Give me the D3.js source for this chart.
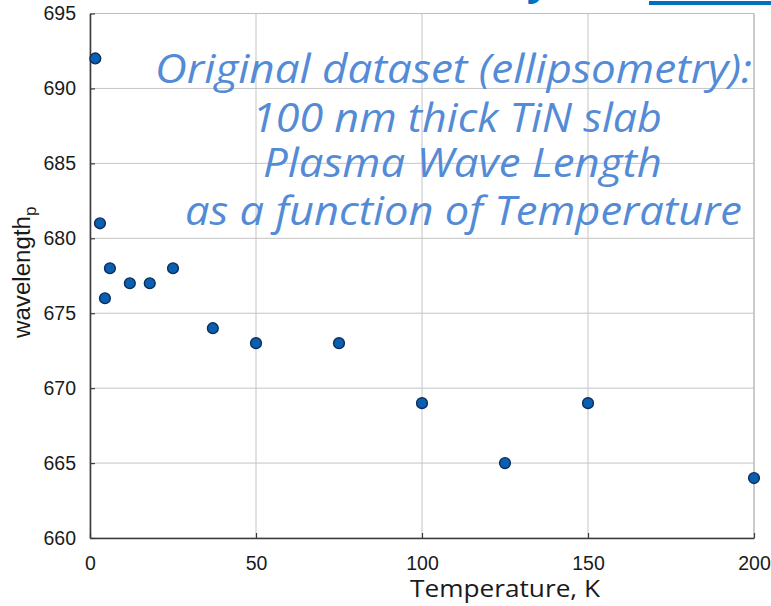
<!DOCTYPE html>
<html>
<head>
<meta charset="utf-8">
<script src="https://cdn.jsdelivr.net/npm/d3@7"></script>
<style>
  html, body { margin: 0; padding: 0; background: #ffffff; }
  svg { display: block; }
</style>
</head>
<body>
<div id="chart"></div>
<script>
// ---- data ----
const temperatures = [1.6, 3, 4.5, 6, 12, 18, 25, 37, 50, 75, 100, 125, 150, 200];
const wavelengths  = [692, 681, 676, 678, 677, 677, 678, 674, 673, 673, 669, 665, 669, 664];
const xTicks = [0, 50, 100, 150, 200];
const yTicks = [660, 665, 670, 675, 680, 685, 690, 695];
const annotationLines = [
  "Original dataset (ellipsometry):",
  "100 nm thick TiN slab",
  "Plasma Wave Length",
  "as a function of Temperature"
];
const xTitle = "Temperature, K";
const yTitle = "wavelength";
const yTitleSub = "p";

// ---- layout ----
const W = 771, H = 606;
const pL = 90, pR = 754, pT = 13.5, pB = 538;

const svg = d3.select("#chart").append("svg")
  .attr("width", W).attr("height", H);

const x = d3.scaleLinear().domain([0, 200]).range([pL, pR]);
const y = d3.scaleLinear().domain([660, 695]).range([pB, pT]);

// decorative header remnants (cut-off slide title)
svg.append("rect").attr("x", 649).attr("y", 1).attr("width", 122).attr("height", 4)
  .attr("fill", "#0070C0");
svg.append("text").attr("x", 531).attr("y", -5)
  .attr("font-family", "Open Sans").attr("font-weight", 700).attr("font-style", "italic")
  .attr("font-size", 40).attr("fill", "#0070C0").text("y");

// grid
const grid = svg.append("g");
grid.selectAll("line.gx").data(xTicks).join("line")
  .attr("class", "gx")
  .attr("x1", d => x(d)).attr("x2", d => x(d))
  .attr("y1", pT).attr("y2", pB)
  .attr("stroke", "#c4c4c4").attr("stroke-width", 1);
grid.selectAll("line.gy").data(yTicks).join("line")
  .attr("class", "gy")
  .attr("x1", pL).attr("x2", pR)
  .attr("y1", d => y(d)).attr("y2", d => y(d))
  .attr("stroke", "#c4c4c4").attr("stroke-width", 1);

// box border (top/right light)
svg.append("line").attr("x1", pL).attr("x2", pR).attr("y1", pT).attr("y2", pT)
  .attr("stroke", "#bdbdbd").attr("stroke-width", 1.2);
svg.append("line").attr("x1", pR).attr("x2", pR).attr("y1", pT).attr("y2", pB)
  .attr("stroke", "#bdbdbd").attr("stroke-width", 1.2);

// axes
const xAxis = d3.axisBottom(x).tickValues(xTicks).tickSizeInner(-5).tickSizeOuter(0).tickPadding(18);
const yAxis = d3.axisLeft(y).tickValues(yTicks).tickSizeInner(-5).tickSizeOuter(0).tickPadding(14);

const gx = svg.append("g").attr("transform", `translate(0,${pB})`).call(xAxis);
const gy = svg.append("g").attr("transform", `translate(${pL},0)`).call(yAxis);
[gx, gy].forEach(g => {
  g.select(".domain").attr("stroke", "#3c3c3c").attr("stroke-width", 1.6);
  g.selectAll(".tick line").attr("stroke", "#3c3c3c").attr("stroke-width", 1.2);
  g.selectAll(".tick text").attr("font-family", "Liberation Sans, Arial, sans-serif")
    .attr("font-size", 19.5).attr("fill", "#1a1a1a");
});

// annotation
const ann = svg.append("g");
const annBaselines = [83, 132, 177, 225];
const annStarts = [155, 252, 263, 185];
const annEnds = [752, 662, 662, 742];
ann.selectAll("text").data(annotationLines).join("text")
  .attr("x", (d, i) => annStarts[i])
  .attr("y", (d, i) => annBaselines[i])
  .attr("textLength", (d, i) => annEnds[i] - annStarts[i])
  .attr("lengthAdjust", "spacingAndGlyphs")
  .attr("font-family", "Open Sans, sans-serif")
  .attr("font-style", "italic")
  .attr("font-size", 40)
  .attr("fill", "#548bd6")
  .text(d => d);

// points
svg.append("g").selectAll("circle").data(temperatures).join("circle")
  .attr("cx", d => x(d))
  .attr("cy", (d, i) => y(wavelengths[i]))
  .attr("r", 5.4)
  .attr("fill", "#0b5fb0")
  .attr("stroke", "#0c2d5a")
  .attr("stroke-width", 1.4);

// x title
svg.append("text").attr("x", 410).attr("y", 597)
  .attr("textLength", 190).attr("lengthAdjust", "spacingAndGlyphs")
  .attr("font-family", "Open Sans, sans-serif").attr("font-size", 23)
  .attr("fill", "#1a1a1a").text(xTitle);

// y title
const yt = svg.append("text")
  .attr("transform", "translate(30,338) rotate(-90)")
  .attr("font-family", "Liberation Sans, Arial, sans-serif").attr("font-size", 23)
  .attr("fill", "#1a1a1a");
yt.append("tspan").attr("textLength", 122).attr("lengthAdjust", "spacingAndGlyphs").text(yTitle);
yt.append("tspan").attr("dy", 6).attr("font-size", 17).text(yTitleSub);
</script>
</body>
</html>
